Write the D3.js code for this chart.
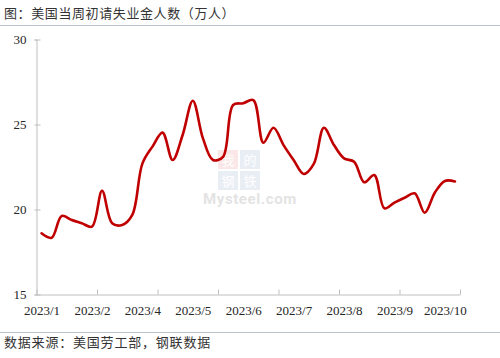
<!DOCTYPE html>
<html><head><meta charset="utf-8">
<script src="https://cdn.jsdelivr.net/npm/d3@7"></script>
<style>
html,body{margin:0;padding:0;background:#fff;}
svg{display:block;}
</style></head>
<body>
<script>
// ---- data ----
const title = "图：美国当周初请失业金人数（万人）";
const source = "数据来源：美国劳工部，钢联数据";
const categories = [1,2,3,4,5,6,7,8,9,10,11,12,13,14,15,16,17,18,19,20,21,
  22,23,24,25,26,27,28,29,30,31,32,33,34,35,36,37,38,39,40,41,42];
const values = [18.6, 18.34, 19.62, 19.38, 19.19, 18.99, 21.1, 19.19, 19.09, 19.68,
  22.7, 23.7, 24.52, 22.91, 24.4, 26.4, 24.2, 22.91, 23.1, 26.15,
  26.25, 26.44, 23.93, 24.81, 23.79, 22.91, 22.09, 22.68, 24.81, 23.79,
  23.01, 22.81, 21.6, 22.03, 20.07, 20.4, 20.69, 20.95, 19.81, 20.99,
  21.68, 21.65];
const labelWeeks = [1, 6, 11, 16, 21, 26, 31, 36, 41];
const tickLabels = ["2023/1","2023/2","2023/4","2023/5","2023/6","2023/7","2023/8","2023/9","2023/10"];
const tickBoundaries = [0, 6, 12, 18, 24, 30, 36, 42];
const yTicks = [15, 20, 25, 30];

// ---- layout ----
const W = 500, H = 358;
const mLeft = 36.5, mRight = 460, mTop = 39.5, mBottom = 294.5;
const textColor = "#262626", axisColor = "#bfbfbf";

const svg = d3.select("body").append("svg").attr("width", W).attr("height", H);
svg.append("rect").attr("width", W).attr("height", H).attr("fill", "#fff");

// title & source
svg.append("text").attr("x", 4).attr("y", 18).text(title)
  .attr("font-family", "'Noto Sans CJK SC'").attr("font-size", 13).attr("letter-spacing", 0.6)
  .attr("fill", "#333");
svg.append("line").attr("x1", 0).attr("x2", W).attr("y1", 25.5).attr("y2", 25.5)
  .attr("stroke", "#b8c4d0").attr("stroke-width", 1);
svg.append("line").attr("x1", 0).attr("x2", W).attr("y1", 332.5).attr("y2", 332.5)
  .attr("stroke", "#b8c4d0").attr("stroke-width", 1);
svg.append("text").attr("x", 4).attr("y", 347).text(source)
  .attr("font-family", "'Noto Sans CJK SC'").attr("font-size", 13).attr("letter-spacing", 0.8)
  .attr("fill", "#333");

// watermark
const wm = svg.append("g").attr("opacity", 0.5);
[["我", 218, 150, "#f3b0b0"], ["的", 240, 150, "#b8c8e0"], ["钢", 218, 171, "#b8c8e0"], ["铁", 240, 171, "#b8c8e0"]]
  .forEach(([t, x, y, c]) => {
    wm.append("rect").attr("x", x).attr("y", y).attr("width", 20).attr("height", 19).attr("fill", c).attr("opacity", 0.6);
    wm.append("text").attr("x", x + 10).attr("y", y + 14.5).attr("text-anchor", "middle").text(t)
      .attr("font-family", "'Noto Sans CJK SC'").attr("font-size", 13).attr("fill", "#fff");
  });
wm.append("text").attr("x", 203).attr("y", 204).text("Mysteel.com")
  .attr("font-family", "Roboto, 'DejaVu Sans'").attr("font-weight", "bold").attr("font-size", 15)
  .attr("letter-spacing", 0.6).attr("fill", "#c8c8c8");

// scales
const x = d3.scalePoint().domain(categories).range([mLeft, mRight]).padding(0.5);
const xEdge = d3.scaleLinear().domain([0, categories.length]).range([mLeft, mRight]);
const y = d3.scaleLinear().domain([15, 30]).range([mBottom, mTop]);

// y axis
const yAxis = svg.append("g").attr("transform", `translate(${mLeft},0)`)
  .call(d3.axisLeft(y).tickValues(yTicks).tickSize(2).tickPadding(8).tickFormat(d3.format("d")));
yAxis.select(".domain").attr("stroke", axisColor);
yAxis.selectAll(".tick line").attr("stroke", axisColor).attr("x2", -2).attr("x1", 4);
yAxis.selectAll("text").attr("font-family", "'Liberation Serif'").attr("font-size", 13).attr("fill", textColor);

// x axis (tick marks)
const xAxis = svg.append("g").attr("transform", `translate(0,${mBottom})`)
  .call(d3.axisBottom(xEdge).tickValues(tickBoundaries).tickSizeInner(-5).tickSizeOuter(0).tickFormat(""));
xAxis.select(".domain").attr("stroke", axisColor);
xAxis.selectAll(".tick line").attr("stroke", axisColor);

// x axis (labels)
const xLab = svg.append("g").attr("transform", `translate(0,${mBottom})`)
  .call(d3.axisBottom(x).tickValues(labelWeeks).tickSize(0).tickPadding(11)
    .tickFormat(d => tickLabels[labelWeeks.indexOf(d)]));
xLab.select(".domain").remove();
xLab.selectAll("text").attr("font-family", "'Liberation Serif'").attr("font-size", 13).attr("fill", textColor);

// line
const line = d3.line().x((d, i) => x(categories[i])).y(d => y(d)).curve(d3.curveCatmullRom.alpha(0.5));
svg.append("path").datum(values).attr("d", line)
  .attr("fill", "none").attr("stroke", "#c00000").attr("stroke-width", 2.6)
  .attr("stroke-linejoin", "round").attr("stroke-linecap", "round");
</script>
</body></html>
